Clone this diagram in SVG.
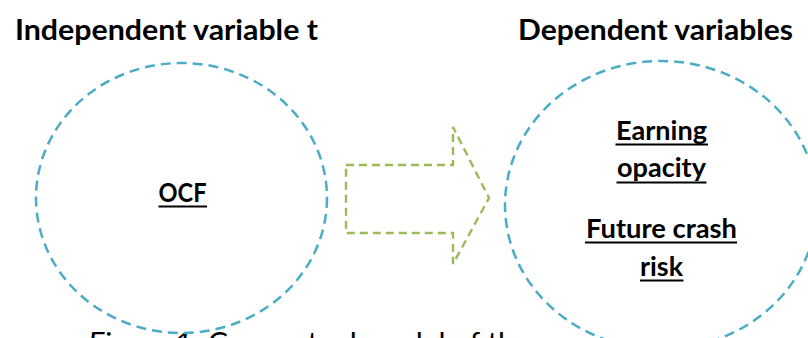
<svg xmlns="http://www.w3.org/2000/svg" width="808" height="338" viewBox="0 0 808 338">
  <style>
    .title { font-family: Lato, "Liberation Sans", sans-serif; font-weight: bold; font-size: 29px; fill: #000; }
    .label { font-family: Lato, "Liberation Sans", sans-serif; font-weight: bold; font-size: 26px; fill: #000; text-anchor: middle; }
    .caption { font-family: Lato, "Liberation Sans", sans-serif; font-size: 29px; fill: #000; }
    .ring { fill: #fff; stroke: #4BACC6; stroke-width: 2.5; stroke-dasharray: 10 6; }
    .arrow { fill: none; stroke: #9BBB59; stroke-width: 2.4; stroke-dasharray: 8 5; }
    .uline { fill: #000; }
  </style>

  <rect width="808" height="338" fill="#fff"/>

  <!-- caption (partly hidden below the right node) -->
  <text class="caption" y="353"><tspan x="88" font-style="italic" textLength="104" lengthAdjust="spacingAndGlyphs">Figure 1</tspan><tspan>:</tspan><tspan x="208" textLength="441" lengthAdjust="spacingAndGlyphs">Conceptual model of the research</tspan></text>

  <!-- headings -->
  <text class="title" x="15" y="40" textLength="303" lengthAdjust="spacingAndGlyphs">Independent variable t</text>
  <text class="title" x="518" y="40" textLength="275" lengthAdjust="spacingAndGlyphs">Dependent variables</text>

  <!-- independent variable node -->
  <g id="node-ocf">
    <ellipse class="ring" cx="181.5" cy="198" rx="145.5" ry="135"/>
    <text class="label" x="182.5" y="202" textLength="48" lengthAdjust="spacingAndGlyphs">OCF</text>
    <rect class="uline" x="158.5" y="205.5" width="48.5" height="2"/>
  </g>

  <!-- dependent variables node -->
  <g id="node-dependent">
    <ellipse class="ring" cx="661" cy="205" rx="156" ry="144"/>
    <text class="label" x="661.5" y="140" textLength="91" lengthAdjust="spacingAndGlyphs">Earning</text>
    <rect class="uline" x="615.5" y="143.5" width="92.5" height="2"/>
    <text class="label" x="661.5" y="177" textLength="89" lengthAdjust="spacingAndGlyphs">opacity</text>
    <rect class="uline" x="616.5" y="181.5" width="90" height="2"/>
    <text class="label" x="661.5" y="238" textLength="151" lengthAdjust="spacingAndGlyphs">Future crash</text>
    <rect class="uline" x="585" y="241.5" width="152" height="2"/>
    <text class="label" x="661.5" y="276" textLength="43" lengthAdjust="spacingAndGlyphs">risk</text>
    <rect class="uline" x="640" y="279.5" width="43.5" height="2"/>
  </g>

  <!-- connector: block arrow between the nodes -->
  <g id="connectors">
    <path class="arrow" d="M346,165 H453 V127 L489,198 L453,264 V233 H346 Z"/>
  </g>
</svg>
